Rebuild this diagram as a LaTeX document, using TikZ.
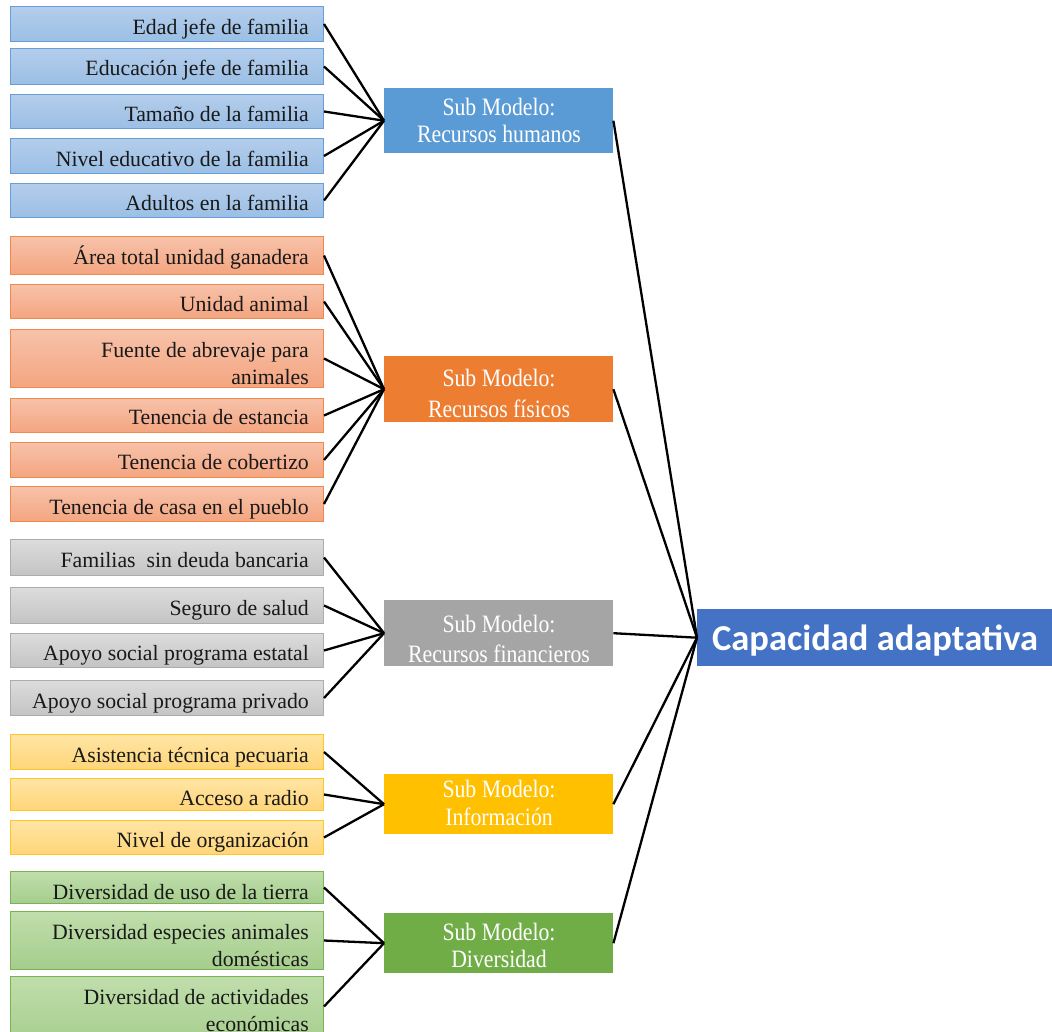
\documentclass[tikz,border=0pt]{standalone}
\usepackage{fontspec}
\setmainfont{Liberation Serif}
\newfontfamily\capfont{Carlito}
\usepackage{graphicx}
\definecolor{blueT}{RGB}{180,205,235}
\definecolor{blueB}{RGB}{155,191,229}
\definecolor{blueD}{RGB}{105,157,213}
\definecolor{orT}{RGB}{247,194,170}
\definecolor{orB}{RGB}{244,165,128}
\definecolor{orD}{RGB}{240,138,75}
\definecolor{grT}{RGB}{220,220,220}
\definecolor{grB}{RGB}{196,196,196}
\definecolor{grD}{RGB}{172,172,172}
\definecolor{yeT}{RGB}{255,229,165}
\definecolor{yeB}{RGB}{255,213,120}
\definecolor{yeD}{RGB}{255,198,40}
\definecolor{gnT}{RGB}{192,222,172}
\definecolor{gnB}{RGB}{165,205,140}
\definecolor{gnD}{RGB}{122,180,82}
\definecolor{subBlue}{RGB}{91,155,213}
\definecolor{subOr}{RGB}{237,125,49}
\definecolor{subGr}{RGB}{165,165,165}
\definecolor{subYe}{RGB}{255,192,0}
\definecolor{subGn}{RGB}{112,173,71}
\definecolor{capBlue}{RGB}{68,114,196}
\tikzset{
  lbox/.style={rectangle, inner sep=0pt, line width=1pt, minimum width=313pt, anchor=north west},
  lblue/.style={lbox, draw=blueD, top color=blueT, bottom color=blueB},
  lor/.style={lbox, draw=orD, top color=orT, bottom color=orB},
  lgr/.style={lbox, draw=grD, top color=grT, bottom color=grB},
  lye/.style={lbox, draw=yeD, top color=yeT, bottom color=yeB},
  lgn/.style={lbox, draw=gnD, top color=gnT, bottom color=gnB},
  ltext/.style={inner sep=0pt, text=black!90, font=\fontsize{21.8}{27}\selectfont},
  subbox/.style={rectangle, inner sep=0pt, minimum width=229pt, anchor=north west},
  subtext/.style={inner sep=0pt, text=white, anchor=base},
  conn/.style={draw=black, line width=2.3pt},
}
\newcommand\lbx[6]{%
  \node[#2, minimum height={#4-#3}] (#1) at (10,#3) {};
  \node[ltext, anchor=base east] (#1t) at (309,#5) {#6};}
\newcommand\sbx[8]{%
  \node[subbox, fill=#2, minimum height={#4-#3}] (#1) at (384,#3) {};
  \node[subtext, font=\fontsize{25}{#5}\selectfont] (#1t) at (499,#6)
    {\scalebox{0.87}[1]{\begin{tabular}[b]{@{}c@{}}#7\\#8\end{tabular}}};}
\newcommand\twol[2]{\begin{tabular}[b]{@{}r@{}}#1\\#2\end{tabular}}
\begin{document}
\begin{tikzpicture}[x=1pt,y=-1pt]
\useasboundingbox (0,0) rectangle (1052,1032);
\clip (0,0) rectangle (1052,1032);
% Recursos humanos inputs
\lbx{a1}{lblue}{6}{41}{35}{Edad jefe de familia}
\lbx{a2}{lblue}{48}{84}{76}{Educación jefe de familia}
\lbx{a3}{lblue}{94}{128}{121.5}{Tamaño de la familia}
\lbx{a4}{lblue}{138}{173}{166.5}{Nivel educativo de la familia}
\lbx{a5}{lblue}{183}{217}{210.5}{Adultos en la familia}
% Recursos fisicos inputs
\lbx{b1}{lor}{236}{274}{265}{Área total unidad ganadera}
\lbx{b2}{lor}{284}{318}{311.5}{Unidad animal}
\lbx{b3}{lor}{329}{387}{384.5}{\twol{Fuente de abrevaje para}{animales}}
\lbx{b4}{lor}{398}{432}{424.5}{Tenencia de estancia}
\lbx{b5}{lor}{442}{477}{469.5}{Tenencia de cobertizo}
\lbx{b6}{lor}{486}{521}{514}{Tenencia de casa en el pueblo}
% Recursos financieros inputs
\lbx{c1}{lgr}{539}{575}{567.5}{Familias\ \ sin deuda bancaria}
\lbx{c2}{lgr}{587}{623}{615.5}{Seguro de salud}
\lbx{c3}{lgr}{633}{667}{660.5}{Apoyo social programa estatal}
\lbx{c4}{lgr}{680}{715}{708.5}{Apoyo social programa privado}
% Informacion inputs
\lbx{d1}{lye}{734}{769}{762.5}{Asistencia técnica pecuaria}
\lbx{d2}{lye}{778}{810}{805.5}{Acceso a radio}
\lbx{d3}{lye}{820}{854}{847.5}{Nivel de organización}
% Diversidad inputs
\lbx{e1}{lgn}{871}{903}{899.5}{Diversidad de uso de la tierra}
\lbx{e2}{lgn}{911}{969}{966}{\twol{Diversidad especies animales}{domésticas}}
\lbx{e3}{lgn}{976}{1046}{1031}{\twol{Diversidad de actividades}{económicas}}
% Sub models
\sbx{s1}{subBlue}{88}{153}{27}{143}{Sub Modelo:}{Recursos humanos}
\sbx{s2}{subOr}{356}{422}{31}{417}{Sub Modelo:}{Recursos físicos}
\sbx{s3}{subGr}{600}{666}{30}{662}{Sub Modelo:}{Recursos financieros}
\sbx{s4}{subYe}{774}{834}{28}{825}{Sub Modelo:}{Información}
\sbx{s5}{subGn}{913}{973}{27}{967}{Sub Modelo:}{Diversidad}
% Capacidad adaptativa
\node[rectangle, inner sep=0pt, fill=capBlue, minimum width=362pt, minimum height=57pt, anchor=north west] (cap) at (697,609) {};
\node[inner sep=0pt, anchor=base, text=white, font=\capfont\bfseries\fontsize{36.5}{40}\selectfont] (capt) at (875,650) {Capacidad adaptativa};
% Connectors
\foreach \i in {a1,a2,a3,a4,a5} \draw[conn] (\i.east) -- (s1.west);
\foreach \i in {b1,b2,b3,b4,b5,b6} \draw[conn] (\i.east) -- (s2.west);
\foreach \i in {c1,c2,c3,c4} \draw[conn] (\i.east) -- (s3.west);
\foreach \i in {d1,d2,d3} \draw[conn] (\i.east) -- (s4.west);
\draw[conn] (e1.east) -- (s5.west);
\draw[conn] (e2.east) -- (s5.west);
\path (e3.east) ++(0,-5) coordinate (e3c);
\draw[conn] (e3c) -- (s5.west);
\foreach \i in {s1,s2,s3,s4,s5} \draw[conn] (\i.east) -- (cap.west);
\end{tikzpicture}
\end{document}
